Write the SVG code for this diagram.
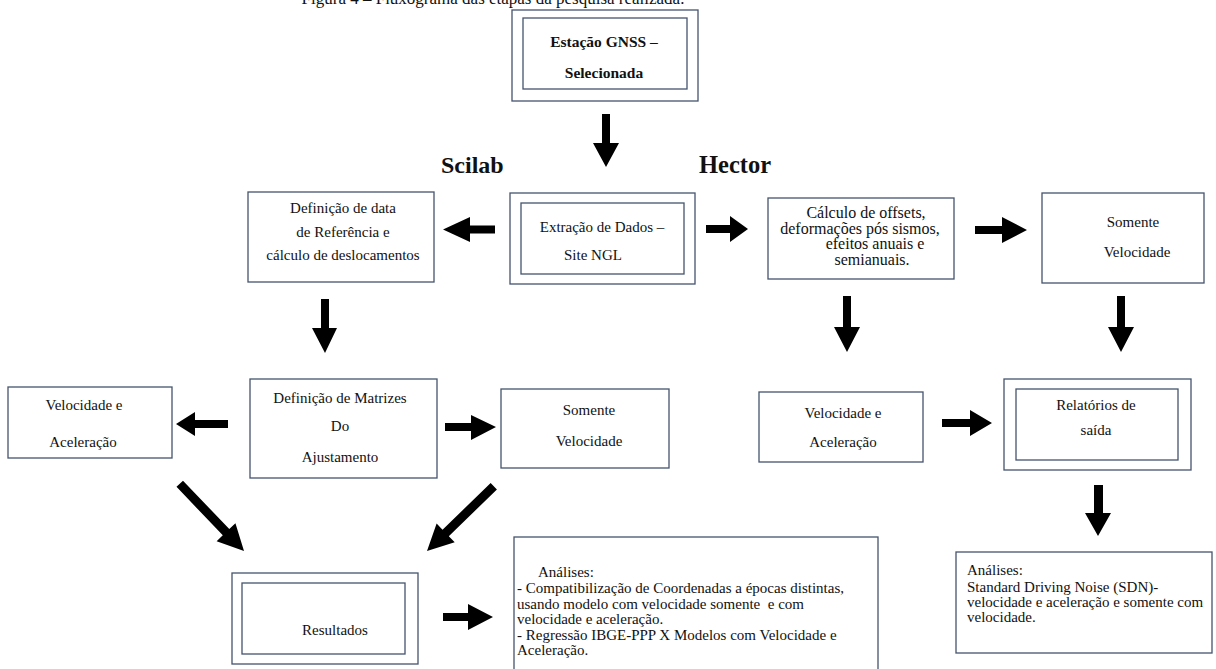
<svg xmlns="http://www.w3.org/2000/svg" width="1216" height="669" viewBox="0 0 1216 669">
<style>
.box{fill:#fff;stroke:#44546f;stroke-width:1.3}
.t{font-family:"Liberation Serif","Times New Roman",serif;font-size:15px;fill:#111}
.m{text-anchor:middle}
.b{font-weight:bold}
.arr{fill:#000}
</style>
<rect width="1216" height="669" fill="#fff"/>
<text class="t" x="493" y="4" text-anchor="middle" style="font-size:17px">Figura 4 – Fluxograma das etapas da pesquisa realizada.</text>
<g id="n-estacao">
<rect class="box" x="512" y="10" width="186" height="91"/>
<rect class="box" x="523" y="18" width="164" height="71"/>
<text class="t m b" x="604" y="47" style="font-size:15.5px">Estação GNSS –</text>
<text class="t m b" x="604" y="78" style="font-size:15.5px">Selecionada</text>
</g>
<g id="lbl-scilab"><text class="t b" x="441" y="173" style="font-size:24px">Scilab</text></g>
<g id="lbl-hector"><text class="t b" x="699" y="173" style="font-size:24.5px">Hector</text></g>
<g id="n-extracao">
<rect class="box" x="510" y="193" width="185" height="91"/>
<rect class="box" x="521" y="203" width="163" height="71"/>
<text class="t m" x="602" y="232">Extração de Dados –</text>
<text class="t m" x="593" y="260">Site NGL</text>
</g>
<g id="n-definicao-data">
<rect class="box" x="248" y="192" width="186" height="90"/>
<text class="t m" x="343" y="213">Definição de data</text>
<text class="t m" x="343" y="237">de Referência e</text>
<text class="t m" x="343" y="260">cálculo de deslocamentos</text>
</g>
<g id="n-calculo">
<rect class="box" x="768" y="198" width="186" height="81"/>
<text class="t m" x="866" y="218" style="font-size:16px">Cálculo de offsets,</text>
<text class="t m" x="860" y="234" style="font-size:16px">deformações pós sismos,</text>
<text class="t m" x="875" y="249" style="font-size:16px">efeitos anuais e</text>
<text class="t m" x="872" y="265" style="font-size:16px">semianuais.</text>
</g>
<g id="n-somente-h">
<rect class="box" x="1042" y="193" width="162" height="90"/>
<text class="t m" x="1133" y="227">Somente</text>
<text class="t m" x="1137" y="257">Velocidade</text>
</g>
<g id="n-matrizes">
<rect class="box" x="250" y="379" width="187" height="99"/>
<text class="t m" x="340" y="403">Definição de Matrizes</text>
<text class="t m" x="340" y="431">Do</text>
<text class="t m" x="340" y="462">Ajustamento</text>
</g>
<g id="n-velacel-s">
<rect class="box" x="8" y="387" width="164" height="71"/>
<text class="t m" x="84" y="410">Velocidade e</text>
<text class="t m" x="83" y="447">Aceleração</text>
</g>
<g id="n-somente-s">
<rect class="box" x="501" y="389" width="168" height="79"/>
<text class="t m" x="589" y="415">Somente</text>
<text class="t m" x="589" y="446">Velocidade</text>
</g>
<g id="n-velacel-h">
<rect class="box" x="759" y="392" width="164" height="70"/>
<text class="t m" x="843" y="418">Velocidade e</text>
<text class="t m" x="843" y="447">Aceleração</text>
</g>
<g id="n-relatorios">
<rect class="box" x="1004" y="379" width="187" height="91"/>
<rect class="box" x="1016" y="389" width="162" height="71"/>
<text class="t m" x="1096" y="410">Relatórios de</text>
<text class="t m" x="1096" y="435">saída</text>
</g>
<g id="n-resultados">
<rect class="box" x="232" y="573" width="186" height="91"/>
<rect class="box" x="242" y="583" width="163" height="71"/>
<text class="t m" x="335" y="635">Resultados</text>
</g>
<g id="n-analises-s">
<rect class="box" x="514" y="537" width="364" height="140"/>
<text class="t" x="538" y="577">Análises:</text>
<text class="t" x="517" y="593">- Compatibilização de Coordenadas a épocas distintas,</text>
<text class="t" x="517" y="609" xml:space="preserve">usando modelo com velocidade somente  e com</text>
<text class="t" x="517" y="624">velocidade e aceleração.</text>
<text class="t" x="517" y="640">- Regressão IBGE-PPP X Modelos com Velocidade e</text>
<text class="t" x="517" y="655">Aceleração.</text>
</g>
<g id="n-analises-h">
<rect class="box" x="956" y="552" width="256" height="101"/>
<text class="t" x="967" y="575">Análises:</text>
<text class="t" x="967" y="592">Standard Driving Noise (SDN)-</text>
<text class="t" x="967" y="607">velocidade e aceleração e somente com</text>
<text class="t" x="967" y="622">velocidade.</text>
</g>
<g id="connectors" class="arr">
<polygon points="602,114 610,114 610,143 619,143 606,167 593,143 602,143"/>
<polygon points="495,225.5 470,225.5 470,217 443,229.5 470,242 470,233.5 495,233.5"/>
<polygon points="706,225 730,225 730,216 748,229 730,242 730,233 706,233"/>
<polygon points="975,226 1002,226 1002,217 1027,230 1002,243 1002,234 975,234"/>
<polygon points="321,299 329,299 329,328 337,328 325,353 312,328 321,328"/>
<polygon points="843,296 851,296 851,327 860,327 847,352 834,327 843,327"/>
<polygon points="1117,296 1125,296 1125,327 1134,327 1121,352 1108,327 1117,327"/>
<polygon points="228,420 195,420 195,412 176,424 195,436 195,428 228,428"/>
<polygon points="445,423 471,423 471,415 496,427 471,440 471,431 445,431"/>
<polygon points="942,419 970,419 970,410 992,423 970,436 970,427 942,427"/>
<polygon points="1094,485 1103,485 1103,513 1111,513 1098,536 1085,513 1094,513"/>
<polygon points="443,613 468,613 468,604 493,617 468,630 468,621 443,621"/>
<g transform="translate(244,551) rotate(46.3)"><polygon points="-93,-4.5 -26,-4.5 -26,-13 0,0 -26,13 -26,4.5 -93,4.5"/></g>
<g transform="translate(427,551) rotate(135.9)"><polygon points="-93,-4.5 -26,-4.5 -26,-13 0,0 -26,13 -26,4.5 -93,4.5"/></g>
</g>
</svg>
